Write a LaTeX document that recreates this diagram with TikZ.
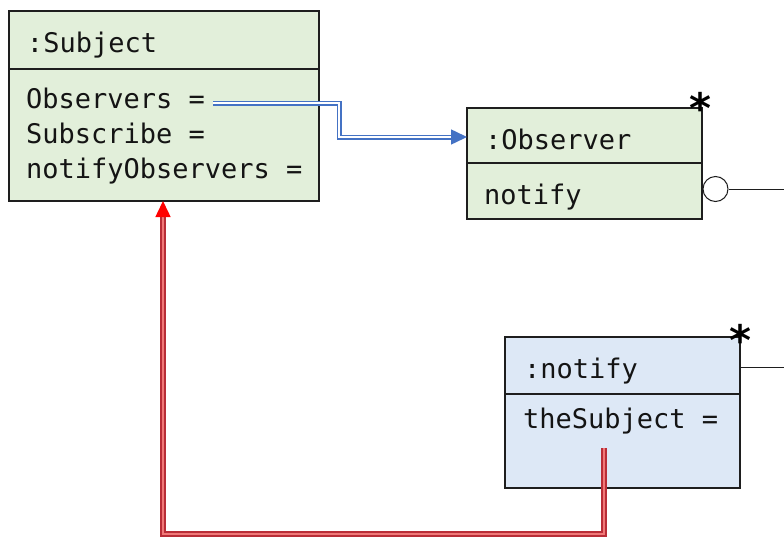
\documentclass[tikz,border=0pt]{standalone}
\usepackage{fontspec}
\newfontfamily\monof{DejaVu Sans Mono}
\newfontfamily\starf{DejaVu Sans}
\usetikzlibrary{arrows.meta}
\definecolor{boxgreen}{RGB}{226,239,218}
\definecolor{boxblue}{RGB}{221,232,246}
\definecolor{linkblue}{RGB}{68,114,196}
\definecolor{linkred}{RGB}{185,45,55}
\definecolor{linkpink}{RGB}{240,120,120}
\definecolor{edge}{RGB}{30,30,30}
\tikzset{
  x=1pt, y=-1pt,
  objbox/.style={draw=edge, line width=1.4pt, minimum width=#1, inner sep=0pt, outer sep=0pt},
  txt/.style={anchor=base west, inner sep=0pt, outer sep=0pt, font=\monof\fontsize{27}{30}\selectfont, text=black!92},
  divider/.style={draw=edge, line width=1.4pt},
  mult/.style={inner sep=0pt, font=\starf\bfseries\fontsize{42}{42}\selectfont},
  bluelink/.style={draw=linkblue, double=white, double distance=2pt, line width=1.5pt,
     -{Triangle[length=16pt,width=15pt,fill=linkblue,color=linkblue]}},
  redlink/.style={draw=linkred, double=linkpink, double distance=2.4pt, line width=1.5pt,
     -{Triangle[length=16pt,width=15pt,fill=red,color=red]}},
  thin/.style={draw=edge, line width=1pt}
}
\begin{document}
\begin{tikzpicture}
\useasboundingbox (0,0) rectangle (784,538);
% Subject
\node[objbox=310pt, minimum height=190pt, fill=boxgreen] (subj) at (164,106) {};
\draw[divider] (9,69) coordinate (sdl) -- (319,69) coordinate (sdr);
\node[txt] (stitle) at (27,52) {:Subject};
\node[txt] (sobs) at (26,108) {Observers =};
\node[txt] (ssub) at (26,143) {Subscribe =};
\node[txt] (snot) at (26,178) {notifyObservers =};
% Observer
\node[objbox=235pt, minimum height=111pt, fill=boxgreen] (obs) at (584.5,163.5) {};
\draw[divider] (467,163) coordinate (odl) -- (702,163) coordinate (odr);
\node[txt] (otitle) at (485,149) {:Observer};
\node[txt] (onot) at (484,204) {notify};
\node[mult] (ostar) at (700,108) {*};
% notify
\node[objbox=235pt, minimum height=151pt, fill=boxblue] (ntf) at (622.5,412.5) {};
\draw[divider] (505,394) coordinate (ndl) -- (740,394) coordinate (ndr);
\node[txt] (ntitle) at (524,378) {:notify};
\node[txt] (nsub) at (523,428) {theSubject =};
\node[mult] (nstar) at (740,340) {*};
% lollipop
\node[circle, draw=edge, line width=1pt, minimum size=25pt, inner sep=0pt, fill=white] (lol) at (715.5,189) {};
\coordinate (lolend) at (784,189);
\draw[thin] (lol.east) -- (lolend);
\coordinate (nend) at (784,367);
\draw[thin] (ntf.north east |- nend) -- (nend);
% blue link
\coordinate (bstart) at (213,103);
\draw[bluelink] (bstart) -- (339,103) -- (339,137) -- (obs.west |- 0,137);
% red link
\coordinate (rstart) at (604,448);
\draw[redlink] (rstart) -- (604,534) -- (163,534) -- (subj.south -| 163,0);
\end{tikzpicture}
\end{document}
